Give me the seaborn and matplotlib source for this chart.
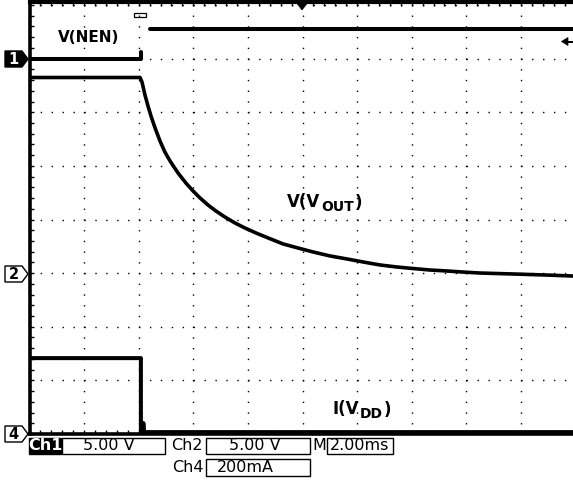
import numpy as np
import pandas as pd
import matplotlib
matplotlib.use("Agg")
import matplotlib.pyplot as plt
import seaborn as sns
from matplotlib.patches import Rectangle, Polygon

# ---------------- data (time in ms, values in V / mA) ----------------
t_nen_low = [0.0, 4.08, 4.08]
v_nen_low = [0.0, 0.0, 0.6]
t_nen_high = [4.41, 20.0]
v_nen_high = [2.76, 2.76]

t_vout = [0.0, 4.05, 4.12, 4.23, 4.34, 4.45, 4.60, 4.78, 4.96, 5.15, 5.44,
          5.73, 5.99, 6.25, 6.54, 6.83, 7.16, 7.53, 7.89, 8.30, 8.74, 9.29,
          9.84, 10.39, 11.01, 11.63, 12.22, 12.84, 13.46, 14.05, 14.67, 15.29,
          15.88, 16.50, 17.71, 18.96, 20.0]
v_vout = [18.24, 18.24, 17.82, 16.61, 15.58, 14.65, 13.53, 12.32, 11.29, 10.45, 9.34,
          8.40, 7.66, 7.00, 6.35, 5.79, 5.23, 4.67, 4.21, 3.74, 3.28, 2.72,
          2.34, 1.97, 1.60, 1.32, 1.04, 0.76, 0.57, 0.43, 0.29, 0.20,
          0.10, 0.01, -0.08, -0.18, -0.28]

t_idd = [0.0, 4.08, 4.08, 4.15, 4.17, 4.20, 20.0]
i_idd = [283, 283, 5, 5, 41, 7, 7]

# channel settings: units per division and ground-marker position (divisions)
ch_scale = {"CH1": 5.0, "CH2": 5.0, "CH4": 200.0}
ch_offset = {"CH1": 3.0, "CH2": -1.0, "CH4": -4.0}

status_row1 = ["Ch1", "5.00 V", "Ch2", "5.00 V", "M", "2.00ms"]
status_row2 = ["Ch4", "200mA"]

# ---------------- build table ----------------
frames = []
for seg, (ch, t, v) in enumerate([("CH1", t_nen_low, v_nen_low),
                                  ("CH1", t_nen_high, v_nen_high),
                                  ("CH2", t_vout, v_vout),
                                  ("CH4", t_idd, i_idd)]):
    d = pd.DataFrame({"t": t, "val": v})
    d["ch"] = ch
    d["seg"] = seg
    d["div"] = ch_offset[ch] + d["val"] / ch_scale[ch]
    frames.append(d)
df = pd.concat(frames, ignore_index=True)

# ---------------- figure ----------------
sns.set_style("white")
plt.rcParams["font.family"] = ["DejaVu Sans"]
plt.rcParams["text.color"] = "black"
W, H = 573, 482
fig = plt.figure(figsize=(W / 100, H / 100), dpi=100)

L, R, T, B = 29.5, 575.5, 5.0, 434.0
ax = fig.add_axes([L / W, 1 - B / H, (R - L) / W, (B - T) / H])

def P(x, y):
    return (x / W, 1 - y / H)

for ch, lw in [("CH1", 2.9), ("CH2", 2.6), ("CH4", 2.9)]:
    sns.lineplot(data=df[df["ch"] == ch], x="t", y="div", units="seg",
                 estimator=None, sort=False, color="black", lw=lw,
                 ax=ax, legend=False, zorder=5)

ax.set_xlim(0, 20)
ax.set_ylim(-4, 4)
ax.set_xlabel("")
ax.set_ylabel("")
ax.set_xticks(np.arange(0, 20.01, 2))
ax.set_xticks(np.arange(0, 20.01, 0.4), minor=True)
ax.set_yticks(np.arange(-4, 4.01, 1))
ax.set_yticks(np.arange(-4, 4.01, 0.2), minor=True)
ax.tick_params(which="both", direction="in", length=3.0, width=1.0, color="black",
               top=True, bottom=True, left=True, right=False,
               labelbottom=False, labelleft=False)

# dotted graticule: a dot every 0.2 division
vsp = (B - T) / 40 * 0.72
hsp = (R - L) / 50 * 0.72
ax.xaxis.grid(True, which="major", color="black", lw=1.0,
              linestyle=(0.5, (1.0, vsp - 1.0)))
ax.yaxis.grid(True, which="major", color="black", lw=1.0,
              linestyle=(0.5, (1.0, hsp - 1.0)))
ax.set_axisbelow(True)

for s in ["left", "bottom"]:
    ax.spines[s].set_linewidth(2.6)
    ax.spines[s].set_color("black")
ax.spines["top"].set_linewidth(3.0)
ax.spines["top"].set_color("black")
ax.spines["top"].set_position(("outward", 2))
ax.spines["right"].set_visible(False)

# ---------------- trace labels ----------------
bold = dict(fontweight="bold", color="black")
fig.text(*P(88.5, 37), "V(NEN)", ha="center", va="center", fontsize=11, **bold)

t1 = fig.text(*P(287, 207), "V(V", ha="left", va="baseline", fontsize=12, **bold)
a1 = ax.annotate("OUT", xy=(1, 0), xycoords=t1, xytext=(0.5, -2.0),
                 textcoords="offset points", ha="left", va="bottom", fontsize=10, **bold)
ax.annotate(")", xy=(1, 0), xycoords=a1, xytext=(0.5, 1.5),
            textcoords="offset points", ha="left", va="bottom", fontsize=12, **bold)

t3 = fig.text(*P(333, 414), "I(V", ha="left", va="baseline", fontsize=12, **bold)
a2 = ax.annotate("DD", xy=(1, 0), xycoords=t3, xytext=(0.5, -2.0),
                 textcoords="offset points", ha="left", va="bottom", fontsize=10, **bold)
ax.annotate(")", xy=(1, 0), xycoords=a2, xytext=(0.5, 1.5),
            textcoords="offset points", ha="left", va="bottom", fontsize=12, **bold)

# ---------------- ground markers ----------------
def marker(yc, label, filled):
    pts = [P(5, yc - 8), P(22, yc - 8), P(28, yc), P(22, yc + 8), P(5, yc + 8)]
    fig.add_artist(Polygon(pts, closed=True, transform=fig.transFigure,
                           facecolor="black" if filled else "white",
                           edgecolor="black", lw=1.0))
    fig.text(*P(13.5, yc + 0.5), label, ha="center", va="center", fontsize=10.5,
             fontweight="bold", color="white" if filled else "black")

marker(59, "1", True)
marker(274, "2", False)
marker(434, "4", False)

# trigger position / level indicators
fig.add_artist(Polygon([P(297, 3.5), P(307, 3.5), P(302, 10)], closed=True,
                       transform=fig.transFigure, facecolor="black", edgecolor="black", lw=0.5))
fig.add_artist(Rectangle(P(134, 16.5), 12 / W, 4 / H, transform=fig.transFigure,
                         facecolor="none", edgecolor="black", lw=0.9))
fig.add_artist(Polygon([P(561.5, 41.5), P(568, 37.5), P(568, 45.5)], closed=True,
                       transform=fig.transFigure, facecolor="black", edgecolor="black", lw=0.5))
fig.add_artist(Rectangle(P(566, 42.5), 7 / W, 2 / H, transform=fig.transFigure,
                         facecolor="black", edgecolor="none"))

# ---------------- status bar ----------------
def box(x0, x1, y0, y1, fill="white"):
    fig.add_artist(Rectangle(P(x0, y1), (x1 - x0) / W, (y1 - y0) / H,
                             transform=fig.transFigure, facecolor=fill,
                             edgecolor="black", lw=1.0))

fs = 11.5
box(29, 61, 438, 454, fill="black")
fig.text(*P(45, 446), status_row1[0], ha="center", va="center", fontsize=fs,
         color="white", fontweight="bold")
box(62, 165, 438, 454)
fig.text(*P(109, 446), status_row1[1], ha="center", va="center", fontsize=fs, color="black")
fig.text(*P(187, 446), status_row1[2], ha="center", va="center", fontsize=fs, color="black")
box(206, 310, 438, 454)
fig.text(*P(255, 446), status_row1[3], ha="center", va="center", fontsize=fs, color="black")
fig.text(*P(319.5, 446), status_row1[4], ha="center", va="center", fontsize=fs, color="black")
box(327, 393, 438, 454)
fig.text(*P(360, 446), status_row1[5], ha="center", va="center", fontsize=fs, color="black")
fig.text(*P(188, 468), status_row2[0], ha="center", va="center", fontsize=fs, color="black")
box(206, 310, 459, 476)
fig.text(*P(245, 468), status_row2[1], ha="center", va="center", fontsize=fs, color="black")

fig.savefig("out.png", dpi=100, facecolor="white")
